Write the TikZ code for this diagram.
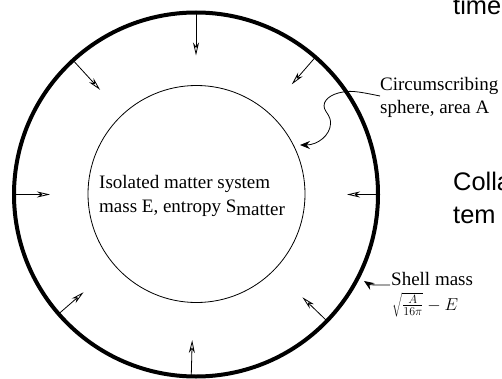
\documentclass[tikz,border=0pt]{standalone}
\usepackage[no-math]{fontspec}
\setmainfont{Liberation Serif}
\newfontfamily\sansf{Liberation Sans}
\usetikzlibrary{arrows.meta,calc}
\begin{document}
\begin{tikzpicture}[x=1pt,y=1pt,
  inarrow/.style={line width=0.8pt, -{Stealth[open,length=13pt,width=6pt,inset=4pt]}},
  ptr/.style={line width=0.8pt, -{Stealth[length=10pt,width=8pt,inset=3.5pt]}},
  serif/.style={inner sep=0pt, anchor=base west, font=\fontsize{19}{23}\selectfont},
  mathlbl/.style={inner sep=0pt, anchor=base west, font=\fontsize{17}{21}\selectfont},
  sans/.style={inner sep=0pt, anchor=base west, font=\sansf\fontsize{25.4}{30}\selectfont}]
\useasboundingbox (0,0) rectangle (502,378);
\clip (0,0) rectangle (502,378);
\coordinate (c) at (196,183.5);
\foreach \a/\r in {90/139, 49/146, 132.5/142, 180/146, 0/151, 221/149, 268.5/145.6, -44/148}
  \draw[inarrow] ($(c)+(\a:181)$) -- ($(c)+(\a:\r)$);
\node[draw, circle, line width=4pt, minimum size=364pt, inner sep=0pt] (outer) at (c) {};
\node[draw, circle, line width=0.8pt, minimum size=217pt, inner sep=0pt] (inner) at (196.5,184) {};
% labels
\node[serif] (iso1) at (99,190) {Isolated matter system};
\node[serif] (iso2) at (99,166) {mass E, entropy S\raisebox{-3pt}{matter}};
\node[serif] (circ1) at (380,287) {Circumscribing};
\node[serif] (circ2) at (380,264) {sphere, area A};
\node[serif] (shell) at (391,93) {Shell mass};
\node[mathlbl] (shellm) at (392,68) {$\sqrt{\frac{A}{16\pi}}-E$};
\node[sans] (time) at (453,363) {time};
\node[sans] (colla) at (453,188) {Colla};
\node[sans] (tem) at (453,155) {tem};
% pointers
\coordinate (ctail) at (380,282);
\coordinate (ctip) at (300,233);
\draw[ptr] (ctail) .. controls (365,285) and (352,288) .. (343,286)
  .. controls (330,284) and (322,277) .. (324.5,269.5)
  .. controls (326,265) and (331,262) .. (330.5,254)
  .. controls (330,243) and (318,233) .. (ctip);
\coordinate (stail) at (390,93);
\coordinate (stip) at (364,97);
\draw[ptr] (stail) .. controls (378,93) and (370,93) .. (stip);
\end{tikzpicture}
\end{document}
